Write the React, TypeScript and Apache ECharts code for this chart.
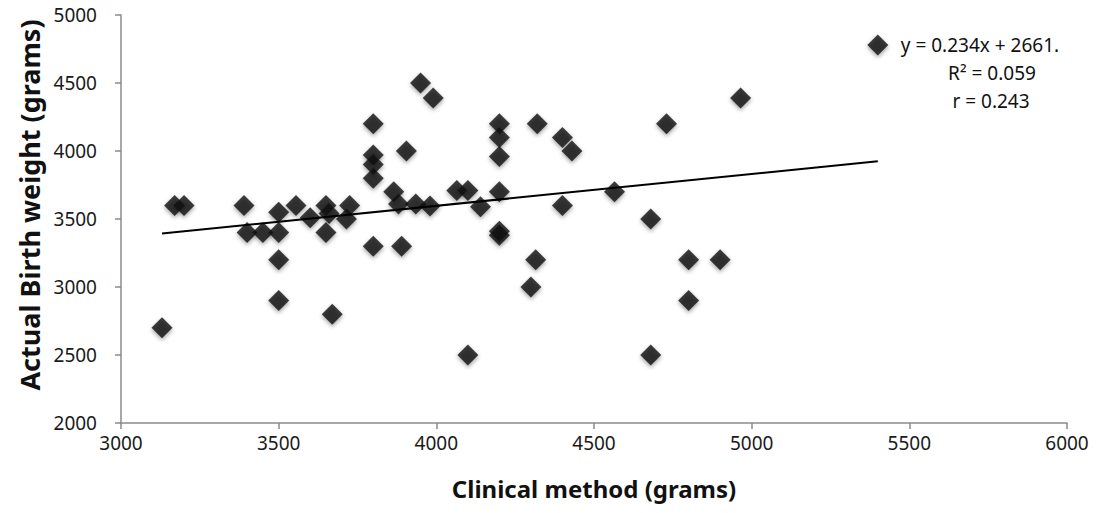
import React, { useEffect, useRef } from "react";
import * as echarts from "echarts";

const clinicalX: number[] = [
  3130, 3170, 3200, 3390, 3400, 3450, 3500, 3500, 3500, 3500,
  3555, 3600, 3650, 3660, 3650, 3670, 3715, 3725, 3800, 3800,
  3800, 3800, 3800, 3865, 3880, 3890, 3905, 3935, 3950, 3990,
  3980, 4065, 4100, 4100, 4140, 4200, 4200, 4200, 4200, 4200,
  4200, 4300, 4315, 4320, 4400, 4430, 4400, 4565, 4680, 4680,
  4730, 4800, 4800, 4900, 4965, 5400,
];
const actualY: number[] = [
  2700, 3600, 3600, 3600, 3400, 3400, 3550, 3400, 3200, 2900,
  3600, 3510, 3600, 3540, 3400, 2800, 3500, 3600, 4200, 3970,
  3900, 3800, 3300, 3700, 3610, 3300, 4000, 3610, 4500, 4390,
  3595, 3710, 3710, 2500, 3590, 4200, 4100, 3960, 3700, 3410,
  3380, 3000, 3200, 4200, 4100, 4000, 3600, 3700, 3500, 2500,
  4200, 3200, 2900, 3200, 4390, 4780,
];

const slope = 0.234;
const intercept = 2661;
const trendX: number[] = [3130, 5400];

const eqLines: string[] = ["y = 0.234x + 2661.", "R\u00B2 = 0.059", "r = 0.243"];
const xTitle = "Clinical method (grams)";
const yTitle = "Actual Birth weight (grams)";

export default function App() {
  const ref = useRef<HTMLDivElement>(null);
  useEffect(() => {
    document.body.style.margin = "0";
    const chart = echarts.init(ref.current!, null, { renderer: "svg" });
    const points = clinicalX.map((x, i) => [x, actualY[i]]);
    const trend = trendX.map((x) => [x, slope * x + intercept]);
    const font = "'Noto Sans', 'Liberation Sans', sans-serif";
    const plain = (v: number) => String(v);
    chart.setOption({
      animation: false,
      backgroundColor: "#ffffff",
      grid: { left: 121, right: 33, top: 15, bottom: 90, containLabel: false },
      xAxis: {
        type: "value",
        min: 3000,
        max: 6000,
        interval: 500,
        name: xTitle,
        nameLocation: "middle",
        nameGap: 53,
        nameTextStyle: { fontFamily: font, fontWeight: "bold", fontSize: 24, color: "#111" },
        axisLine: { show: true, lineStyle: { color: "#8a8a8a", width: 1.5 } },
        axisTick: { show: true, inside: false, length: 6, lineStyle: { color: "#8a8a8a", width: 1.5 } },
        axisLabel: { fontFamily: font, fontSize: 19, color: "#1a1a1a", margin: 10, formatter: plain },
        splitLine: { show: false },
      },
      yAxis: {
        type: "value",
        min: 2000,
        max: 5000,
        interval: 500,
        axisLine: { show: true, lineStyle: { color: "#8a8a8a", width: 1.5 } },
        axisTick: { show: true, inside: false, length: 6, lineStyle: { color: "#8a8a8a", width: 1.5 } },
        axisLabel: { fontFamily: font, fontSize: 19, color: "#1a1a1a", margin: 24, formatter: plain },
        splitLine: { show: false },
      },
      series: [
        {
          type: "line",
          data: trend,
          symbol: "none",
          lineStyle: { color: "#000", width: 2 },
          z: 3,
        },
        {
          type: "scatter",
          data: points,
          symbol: "diamond",
          symbolSize: 21,
          itemStyle: {
            color: "#111111",
            shadowBlur: 4,
            shadowColor: "rgba(0,0,0,0.45)",
            shadowOffsetY: 2,
          },
          z: 2,
        },
      ],
      graphic: [
        {
          type: "text",
          x: 29,
          y: 205,
          rotation: Math.PI / 2,
          style: { text: yTitle, font: `bold 27px ${font}`, fill: "#111", textAlign: "center", textVerticalAlign: "middle" },
        },
        {
          type: "text",
          x: 980,
          y: 45,
          style: { text: eqLines[0], font: `19px ${font}`, fill: "#111", textAlign: "center", textVerticalAlign: "middle" },
        },
        {
          type: "text",
          x: 992,
          y: 73,
          style: { text: eqLines[1], font: `19px ${font}`, fill: "#111", textAlign: "center", textVerticalAlign: "middle" },
        },
        {
          type: "text",
          x: 991,
          y: 101,
          style: { text: eqLines[2], font: `19px ${font}`, fill: "#111", textAlign: "center", textVerticalAlign: "middle" },
        },
      ],
    });
    return () => chart.dispose();
  }, []);
  return <div ref={ref} style={{ width: 1100, height: 513 }} />;
}
